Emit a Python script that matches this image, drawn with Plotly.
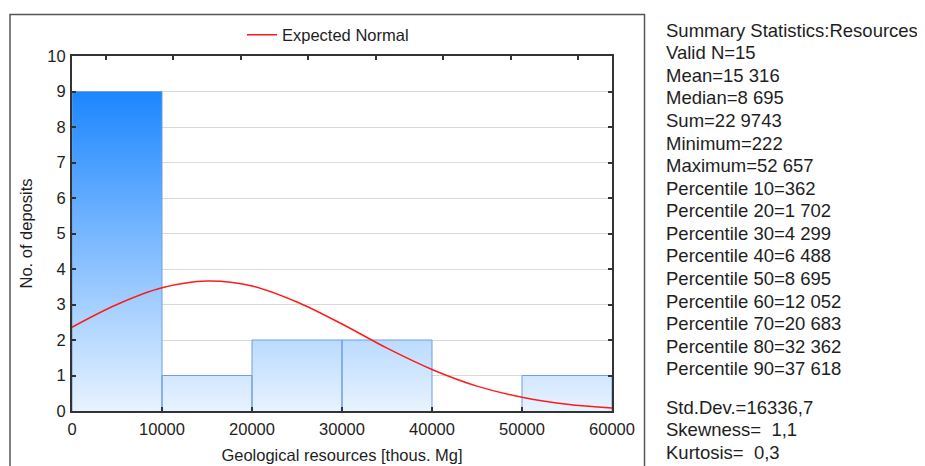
import plotly.graph_objects as go

# ---------------- data ----------------
bin_edges = [0, 10000, 20000, 30000, 40000, 50000, 60000]
counts = [9, 1, 2, 2, 0, 1]

# Expected normal curve
normal_x = [0, 5000, 10000, 15000, 20000, 25000, 30000, 35000, 40000, 45000, 50000, 55000, 60000]
normal_y = [2.36, 3.00, 3.47, 3.66, 3.52, 3.07, 2.45, 1.77, 1.17, 0.70, 0.385, 0.19, 0.087]

x_ticks = [0, 10000, 20000, 30000, 40000, 50000, 60000]
top_ticks = [3750, 11250, 18750, 26250, 33750, 41250, 48750, 56250]

stats_lines = [
    "Summary Statistics:Resources",
    "Valid N=15",
    "Mean=15 316",
    "Median=8 695",
    "Sum=22 9743",
    "Minimum=222",
    "Maximum=52 657",
    "Percentile 10=362",
    "Percentile 20=1 702",
    "Percentile 30=4 299",
    "Percentile 40=6 488",
    "Percentile 50=8 695",
    "Percentile 60=12 052",
    "Percentile 70=20 683",
    "Percentile 80=32 362",
    "Percentile 90=37 618",
]
moment_lines = [
    "Std.Dev.=16336,7",
    "Skewness=  1,1",
    "Kurtosis=  0,3",
]

# ---------------- layout constants (page pixels) ----------------
OFF = 8                      # default body margin of the html page
W, H = 925, 466
L, R, T, B = 72, 612, 56, 411
FONT = "Liberation Sans, Arial, sans-serif"
TXT = "#1e1e1e"

def px_x(p):
    return (p - L) / (R - L)

def px_y(p):
    return (B - p) / (B - T)

# one closed rectangle per non-empty bin (gaps separate them)
poly_x, poly_y = [], []
for i, c in enumerate(counts):
    if c <= 0:
        continue
    x0, x1 = bin_edges[i], bin_edges[i + 1]
    poly_x += [x0, x0, x1, x1, None]
    poly_y += [0, c, c, 0, None]

fig = go.Figure()

fig.add_trace(go.Scatter(
    x=poly_x, y=poly_y, mode="lines", fill="toself",
    line=dict(width=1, color="#6f9de6", simplify=False),
    fillgradient=dict(type="vertical", start=0, stop=max(counts),
                      colorscale=[[0, "rgb(232,243,255)"], [1, "rgb(28,134,255)"]]),
    showlegend=False, hoverinfo="skip",
))

fig.add_trace(go.Scatter(
    x=normal_x, y=normal_y, mode="lines", name="Expected Normal",
    line=dict(color="#ff1a1a", width=1.5, shape="spline"),
))

# invisible trace for the top axis
fig.add_trace(go.Scatter(
    x=[bin_edges[0], bin_edges[-1]], y=[None, None], xaxis="x2", mode="lines",
    showlegend=False, hoverinfo="skip",
))

shapes = [dict(type="rect", xref="paper", yref="paper",
               x0=px_x(10), x1=px_x(644.5), y0=px_y(490), y1=px_y(14.5),
               line=dict(color="#555555", width=1.5), layer="below")]

annotations = []
y0_line, step = 30.1, 22.58
for i, t in enumerate(stats_lines):
    annotations.append(dict(text=t, xref="paper", yref="paper", x=px_x(664), y=px_y(y0_line + i * step),
                            xanchor="left", yanchor="middle", showarrow=False,
                            font=dict(family=FONT, size=18.5, color=TXT)))
y1_line = 407.3
for i, t in enumerate(moment_lines):
    annotations.append(dict(text=t, xref="paper", yref="paper", x=px_x(664), y=px_y(y1_line + i * step),
                            xanchor="left", yanchor="middle", showarrow=False,
                            font=dict(family=FONT, size=18.5, color=TXT)))

fig.update_layout(
    width=W, height=H,
    margin=dict(l=L - OFF, r=W + OFF - R, t=T - OFF, b=H + OFF - B, autoexpand=False),
    paper_bgcolor="white", plot_bgcolor="white",
    font=dict(family=FONT, size=16.5, color=TXT),
    showlegend=True,
    legend=dict(orientation="h", x=px_x(242), y=px_y(35), xanchor="left", yanchor="middle",
                bgcolor="rgba(0,0,0,0)", font=dict(size=16.5, color=TXT)),
    xaxis=dict(range=[bin_edges[0], bin_edges[-1]], tickvals=x_ticks, ticktext=[str(v) for v in x_ticks],
               ticks="inside", ticklen=4, tickcolor="#333333", tickwidth=1.5,
               showline=True, linecolor="#333333", linewidth=2, mirror=True,
               showgrid=False, zeroline=False, ticklabelstandoff=2,
               title=dict(text="Geological resources [thous. Mg]", standoff=13,
                          font=dict(size=16.5, color=TXT))),
    xaxis2=dict(overlaying="x", side="top", range=[bin_edges[0], bin_edges[-1]],
                tickvals=top_ticks, showticklabels=False, ticks="inside", ticklen=4,
                tickcolor="#333333", tickwidth=1.5, showline=False, showgrid=False, zeroline=False),
    yaxis=dict(range=[0, 10], dtick=1, tick0=0, ticks="inside", ticklen=4, tickcolor="#333333",
               tickwidth=1.5, showline=True, linecolor="#333333", linewidth=2, mirror="ticks",
               showgrid=True, gridcolor="#d9d9d9", gridwidth=1, zeroline=False, ticklabelstandoff=1,
               title=dict(text="No. of deposits", standoff=11, font=dict(size=16.5, color=TXT))),
    shapes=shapes,
    annotations=annotations,
)

fig.write_html("out.html")
